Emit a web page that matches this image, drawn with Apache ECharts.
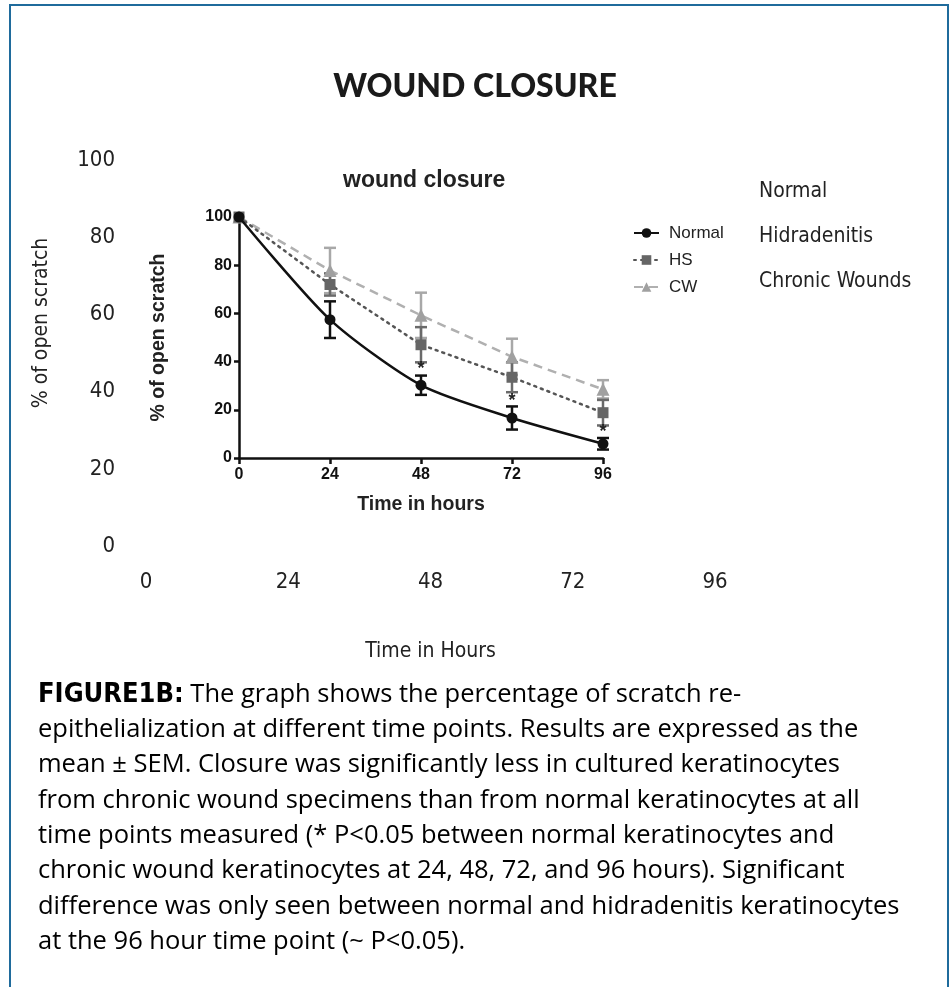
<!DOCTYPE html>
<html>
<head>
<meta charset="utf-8">
<title>Wound closure</title>
<script src="https://cdn.jsdelivr.net/npm/echarts@6/dist/echarts.min.js"></script>
<style>
  html, body { margin: 0; padding: 0; background: #ffffff; }
  #main { width: 950px; height: 987px; }
</style>
</head>
<body>
<div id="main"></div>
<script>
// time points (hours)
var hours = [0, 24, 48, 72, 96];
// mean % of open scratch and SEM
var normalMean = [100, 57.4, 30.2, 16.6, 5.9];
var normalSem = [0, 7.6, 4.0, 4.8, 2.4];
var hsMean = [100, 72.0, 47.0, 33.5, 18.8];
var hsSem = [0, 4.6, 7.3, 6.2, 5.3];
var cwMean = [100, 77.8, 59.2, 42.0, 28.5];
var cwSem = [0, 9.4, 9.4, 7.5, 3.8];
// significance marks (*)
var starHours = [48, 72, 96];
var starValues = [37, 23.8, 10.8];
// legend names
var seriesNames = ['Normal', 'HS', 'CW'];
var longNames = { 'Normal': 'Normal', 'HS': 'Hidradenitis', 'CW': 'Chronic Wounds' };

var caption = [
	'{fig|FIGURE1B:}{body| The graph shows the percentage of scratch re-}',
	'{body|epithelialization at different time points. Results are expressed as the}',
	'{body|mean \u00b1 SEM. Closure was significantly less in cultured keratinocytes}',
	'{body|from chronic wound specimens than from normal keratinocytes at all}',
	'{body|time points measured (* P<0.05 between normal keratinocytes and}',
	'{body|chronic wound keratinocytes at 24, 48, 72, and 96 hours). Significant}',
	'{body|difference was only seen between normal and hidradenitis keratinocytes}',
	'{body|at the 96 hour time point (~ P<0.05).}'
].join('\n');

var narrow = "'DejaVu Sans Condensed', 'Liberation Sans Narrow', sans-serif";
var arial = "'Liberation Sans', Arial, sans-serif";

function pairs(mean) {
	var out = [];
	for (var i = 0; i < hours.length; i++) out.push([hours[i], mean[i]]);
	return out;
}
function errData(mean, sem) {
	var out = [];
	for (var i = 0; i < hours.length; i++) {
		if (sem[i] > 0) out.push([hours[i], mean[i] - sem[i], mean[i] + sem[i]]);
	}
	return out;
}
function errSeries(mean, sem, color) {
	return {
		type : 'custom',
		xAxisIndex : 1,
		yAxisIndex : 1,
		silent : true,
		z : 1,
		data : errData(mean, sem),
		renderItem : function(params, api) {
			var lo = api.coord([api.value(0), api.value(1)]);
			var hi = api.coord([api.value(0), api.value(2)]);
			var w = 6;
			var st = { stroke : color, lineWidth : 2.5 };
			return {
				type : 'group',
				children : [
					{ type : 'line', shape : { x1 : lo[0], y1 : lo[1], x2 : hi[0], y2 : hi[1] }, style : st },
					{ type : 'line', shape : { x1 : hi[0] - w, y1 : hi[1], x2 : hi[0] + w, y2 : hi[1] }, style : st },
					{ type : 'line', shape : { x1 : lo[0] - w, y1 : lo[1], x2 : lo[0] + w, y2 : lo[1] }, style : st }
				]
			};
		}
	};
}

var starData = [];
for (var i = 0; i < starHours.length; i++) starData.push([starHours[i], starValues[i]]);

var myChart = echarts.init(document.getElementById('main'));
var option = {
	backgroundColor : '#ffffff',
	animation : false,
	title : [ {
		text : 'WOUND CLOSURE',
		left : 'center',
		top : 66,
		textStyle : { fontFamily : 'Lato', fontWeight : 900, fontSize : 32, color : '#1a1a1a' }
	}, {
		text : 'wound closure',
		left : 338,
		top : 164,
		textStyle : { fontFamily : arial, fontWeight : 'bold', fontSize : 23, color : '#222' }
	} ],
	legend : [ {
		// inner legend with line + marker icons
		orient : 'vertical',
		left : 628,
		top : 219,
		itemWidth : 25,
		itemHeight : 12,
		itemGap : 9,
		data : seriesNames,
		textStyle : { fontFamily : arial, fontSize : 17, color : '#222', lineHeight : 18, padding : [0, 0, 0, 5] }
	}, {
		// outer legend: names only
		orient : 'vertical',
		left : 749,
		top : 175,
		icon : 'none',
		itemWidth : 0,
		itemGap : 21,
		data : seriesNames,
		formatter : function(name) { return longNames[name]; },
		textStyle : { fontFamily : narrow, fontSize : 21, color : '#222', lineHeight : 24 }
	} ],
	grid : [ {
		left : 146, right : 235, top : 160, bottom : 441
	}, {
		left : 239, right : 347, top : 217, bottom : 529
	} ],
	xAxis : [ {
		gridIndex : 0,
		type : 'value',
		min : 0, max : 96, interval : 24,
		name : 'Time in Hours',
		nameLocation : 'middle',
		nameGap : 95,
		nameTextStyle : { fontFamily : narrow, fontSize : 21, color : '#222' },
		axisLine : { show : false },
		axisTick : { show : false },
		splitLine : { show : false },
		axisLabel : { margin : 25, fontFamily : narrow, fontSize : 22, color : '#222' }
	}, {
		gridIndex : 1,
		type : 'value',
		min : 0, max : 96, interval : 24,
		name : 'Time in hours',
		nameLocation : 'middle',
		nameGap : 37,
		nameTextStyle : { fontFamily : arial, fontWeight : 'bold', fontSize : 19.5, color : '#222' },
		axisLine : { lineStyle : { color : '#111', width : 2.5 } },
		axisTick : { length : 6, lineStyle : { color : '#111', width : 2.5 } },
		splitLine : { show : false },
		axisLabel : { margin : 9, fontFamily : arial, fontWeight : 'bold', fontSize : 16, color : '#111' }
	} ],
	yAxis : [ {
		gridIndex : 0,
		type : 'value',
		min : 0, max : 100, interval : 20,
		name : '% of open scratch',
		nameLocation : 'middle',
		nameGap : 94,
		nameTextStyle : { fontFamily : narrow, fontSize : 21, color : '#222', padding : [0, 0, 0, 60] },
		axisLine : { show : false },
		axisTick : { show : false },
		splitLine : { show : false },
		axisLabel : { margin : 31, fontFamily : narrow, fontSize : 22, color : '#222' }
	}, {
		gridIndex : 1,
		type : 'value',
		min : 0, max : 100, interval : 20,
		name : '% of open scratch',
		nameLocation : 'middle',
		nameGap : 70,
		nameTextStyle : { fontFamily : arial, fontWeight : 'bold', fontSize : 19.5, color : '#222' },
		axisLine : { show : true, lineStyle : { color : '#111', width : 2.5 } },
		axisTick : { show : true, length : 5, lineStyle : { color : '#111', width : 2.5 } },
		splitLine : { show : false },
		axisLabel : { margin : 7, fontFamily : arial, fontWeight : 'bold', fontSize : 16, color : '#111' }
	} ],
	series : [
		errSeries(cwMean, cwSem, '#a8a8a8'),
		errSeries(hsMean, hsSem, '#6a6a6a'),
		errSeries(normalMean, normalSem, '#111111'),
		{
			name : 'CW',
			type : 'line',
			xAxisIndex : 1, yAxisIndex : 1,
			data : pairs(cwMean),
			symbol : 'triangle',
			symbolSize : 13,
			z : 3,
			itemStyle : { color : '#a0a0a0' },
			lineStyle : { color : '#b0b0b0', width : 2.5, type : [9, 6] }
		}, {
			name : 'HS',
			type : 'line',
			xAxisIndex : 1, yAxisIndex : 1,
			data : pairs(hsMean),
			symbol : 'rect',
			symbolSize : 11,
			z : 4,
			itemStyle : { color : '#666666' },
			lineStyle : { color : '#555555', width : 2.5, type : [2, 5], cap : 'round' }
		}, {
			name : 'Normal',
			type : 'line',
			xAxisIndex : 1, yAxisIndex : 1,
			data : pairs(normalMean),
			smooth : 0.25,
			symbol : 'circle',
			symbolSize : 11,
			z : 5,
			itemStyle : { color : '#111111' },
			lineStyle : { color : '#111111', width : 2.5 }
		}, {
			type : 'custom',
			xAxisIndex : 1, yAxisIndex : 1,
			silent : true,
			z : 6,
			data : starData,
			renderItem : function(params, api) {
				var p = api.coord([api.value(0), api.value(1)]);
				return {
					type : 'text',
					x : p[0], y : p[1],
					z2 : 10,
					style : { text : '*', fill : '#222', font : 'bold 18px ' + arial, align : 'center', verticalAlign : 'middle' }
				};
			}
		}
	],
	graphic : [ {
		type : 'rect',
		shape : { x : 10, y : 5, width : 938, height : 1000 },
		style : { fill : 'none', stroke : '#1f6b9c', lineWidth : 2 },
		silent : true,
		z : -1
	}, {
		type : 'text',
		left : 38,
		top : 681,
		style : {
			text : caption,
			rich : {
				fig : { fontFamily : narrow, fontWeight : 'bold', fontSize : 27, color : '#175a85', lineHeight : 35.3 },
				body : { fontFamily : "'Open Sans', sans-serif", fontSize : 25.5, color : '#2b2b2b', lineHeight : 35.3 }
			}
		}
	} ]
};
myChart.setOption(option);
</script>
</body>
</html>
